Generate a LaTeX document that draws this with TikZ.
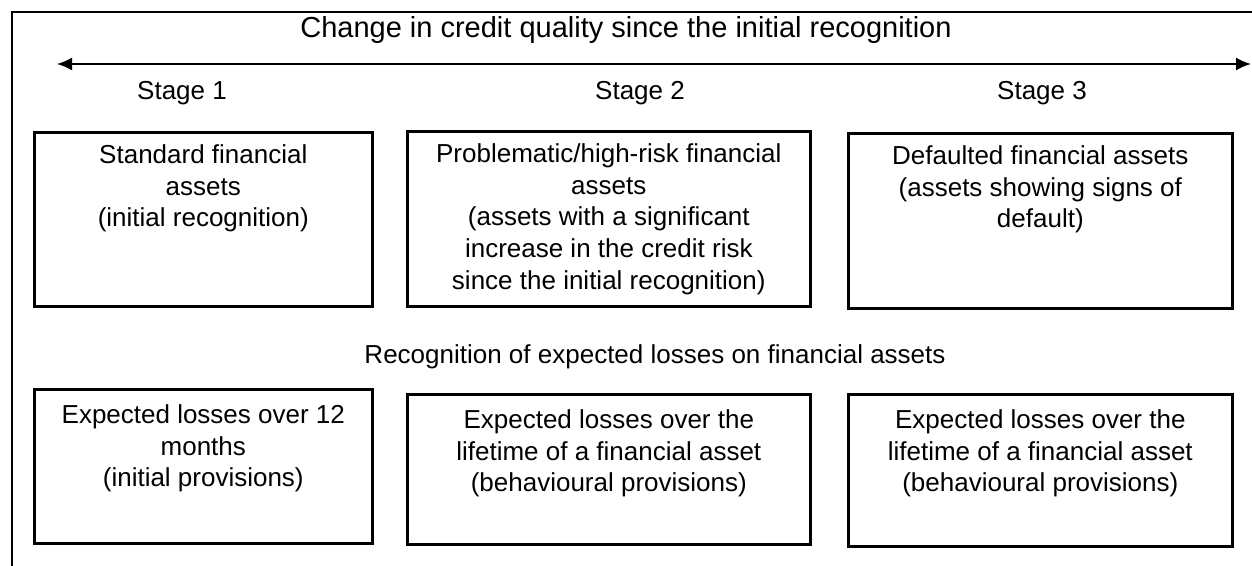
\documentclass[tikz,border=0pt]{standalone}
\usepackage{fontspec}
\setmainfont{Liberation Sans}
\usetikzlibrary{arrows.meta}
\usetikzlibrary{positioning}
\tikzset{box/.style={draw, line width=1.3pt, anchor=north west, inner sep=0pt},
  boxtext/.style={align=center, inner sep=0pt, font=\fontsize{13}{15.9}\selectfont},
  heading/.style={font=\fontsize{13}{15.9}\selectfont}}

\begin{document}
\begin{tikzpicture}[x=0.5pt, y=-0.5pt]
    \useasboundingbox (0,0) rectangle (1252,566);
    \draw[line width=1pt] (1252,12) -- (12,12) -- (12,566);

    \node[heading, font=\fontsize{14.5}{16}\selectfont] at (626, 30) (change) {Change in credit quality since the initial recognition};
    \coordinate (worse) at (57, 64);
    \coordinate (better) at (1251, 64);
    \draw (worse) edge[{Latex[length=7.5pt,width=6.5pt]}-{Latex[length=7.5pt,width=6.5pt]}, line width=0.9pt] (better);

    \node[heading] at (182, 93) (st1) {Stage 1};
    \node[heading] at (640, 93) (st2) {Stage 2};
    \node[heading] at (1042, 93) (st3) {Stage 3};

    % assets
    \node[box, minimum width=169pt, minimum height=87pt] at (33, 131) (A1) {};
    \node[box, minimum width=201.5pt, minimum height=87.5pt] at (406, 130) (A2) {};
    \node[box, minimum width=192pt, minimum height=87.5pt] at (847, 132) (A3) {};
    \node[boxtext, below=6.5pt of A1.north] (a1) {Standard financial\\assets\\(initial recognition)};
    \node[boxtext, below=6.5pt of A2.north] (a2) {Problematic/high-risk financial\\assets\\(assets with a significant\\increase in the credit risk\\since the initial recognition)};
    \node[boxtext, below=6.5pt of A3.north] (a3) {Defaulted financial assets\\(assets showing signs of\\default)};

    \node[heading] at (655, 357) (recog) {Recognition of expected losses on financial assets};

    % losses
    \node[box, minimum width=169pt, minimum height=77pt] at (33, 388) (L1) {};
    \node[box, minimum width=201.5pt, minimum height=75pt] at (406, 393) (L2) {};
    \node[box, minimum width=192pt, minimum height=76pt] at (847, 393) (L3) {};
    \node[boxtext, below=8pt of L1.north] (l1) {Expected losses over 12\\months\\(initial provisions)};
    \node[boxtext, below=8pt of L2.north] (l2) {Expected losses over the\\lifetime of a financial asset\\(behavioural provisions)};
    \node[boxtext, below=8pt of L3.north] (l3) {Expected losses over the\\lifetime of a financial asset\\(behavioural provisions)};
\end{tikzpicture}
\end{document}
